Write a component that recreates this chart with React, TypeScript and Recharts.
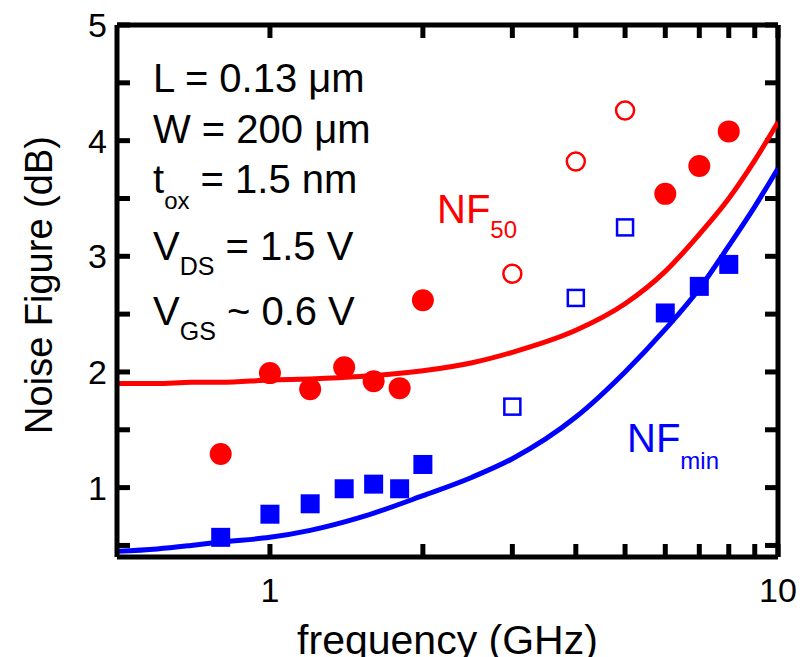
import { ComposedChart, Customized, Line, ReferenceLine, Scatter, XAxis, YAxis } from 'recharts'

// frequency grid (GHz) for the fitted curves
const fitFreq = [0.5, 0.6, 0.7, 0.8, 1, 1.2, 1.5, 2, 2.5, 3, 4, 5, 6, 7, 8, 9, 10]
const nf50Fit = [1.9, 1.9, 1.91, 1.91, 1.93, 1.94, 1.96, 2.01, 2.08, 2.17, 2.36, 2.59, 2.87, 3.19, 3.5, 3.83, 4.16]
const nfMinFit = [0.45, 0.47, 0.5, 0.53, 0.57, 0.63, 0.74, 0.93, 1.09, 1.25, 1.61, 2.0, 2.37, 2.72, 3.09, 3.43, 3.76]

// measured frequencies
const freqLow = [0.8, 1, 1.2, 1.4, 1.6, 1.8, 2]
const freqMid = [3, 4, 5]
const freqHigh = [6, 7, 8]

const nf50Low = [1.29, 1.99, 1.85, 2.04, 1.92, 1.86, 2.62]
const nf50Mid = [2.85, 3.82, 4.26]
const nf50High = [3.54, 3.78, 4.08]

const nfMinLow = [0.57, 0.77, 0.86, 0.99, 1.03, 0.99, 1.2]
const nfMinMid = [1.7, 2.64, 3.25]
const nfMinHigh = [2.51, 2.74, 2.93]

const xTicks = [1, 2, 3, 4, 5, 6, 7, 8, 9, 10]
const xLabels = [1, 10]
const yTicks = [0.5, 1, 1.5, 2, 2.5, 3, 3.5, 4, 4.5, 5]

const X_DOMAIN = [0.5, 10]
const Y_DOMAIN = [0.4, 5]

const zip = (f: number[], v: number[]) => f.map((x, i) => ({ f: x, nf: v[i] }))

const W = 809
const H = 657
const LEFT = 117
const RIGHT = 31
const TOP = 25
const BOTTOM = 100
const PLOT_L = LEFT
const PLOT_R = W - RIGHT
const PLOT_T = TOP
const PLOT_B = H - BOTTOM

const RED = '#ff0000'
const BLUE = '#0000ff'
const FONT = '"Liberation Sans", Arial, Helvetica, sans-serif'
const TICK_PX = 13

// same mapping as the log x axis / linear y axis, used for the frame ticks
const tickX = (v: number) =>
  PLOT_L + ((PLOT_R - PLOT_L) * Math.log(v / X_DOMAIN[0])) / Math.log(X_DOMAIN[1] / X_DOMAIN[0])
const tickY = (v: number) =>
  PLOT_B - ((PLOT_B - PLOT_T) * (v - Y_DOMAIN[0])) / (Y_DOMAIN[1] - Y_DOMAIN[0])

const filledCircle = (p: any) => <circle cx={p.cx} cy={p.cy} r={11} fill={RED} />
const openCircle = (p: any) => <circle cx={p.cx} cy={p.cy} r={9} fill='none' stroke={RED} strokeWidth={2.5} />
const filledSquare = (p: any) => <rect x={p.cx - 9.5} y={p.cy - 9.5} width={19} height={19} fill={BLUE} />
const openSquare = (p: any) => (
  <rect x={p.cx - 8} y={p.cy - 8} width={16} height={16} fill='none' stroke={BLUE} strokeWidth={2.5} />
)

function BottomTick(p: any) {
  const v = p.payload.value
  if (!xLabels.includes(v)) return <g />
  return (
    <text x={p.x} y={PLOT_B + 45} textAnchor='middle' fontSize={34} fontFamily={FONT} fill='#000'>
      {v}
    </text>
  )
}

function LeftTick(p: any) {
  const v = p.payload.value
  if (!Number.isInteger(v)) return <g />
  return (
    <text x={PLOT_L - 10} y={p.y + 12} textAnchor='end' fontSize={34} fontFamily={FONT} fill='#000'>
      {v}
    </text>
  )
}

// inward ticks on all four sides of the frame
function FrameTicks() {
  const s = { stroke: '#000', strokeWidth: 5 }
  return (
    <g>
      {xTicks.map((v) => (
        <g key={`x${v}`}>
          <line x1={tickX(v)} x2={tickX(v)} y1={PLOT_B} y2={PLOT_B - TICK_PX} {...s} />
          <line x1={tickX(v)} x2={tickX(v)} y1={PLOT_T} y2={PLOT_T + TICK_PX} {...s} />
        </g>
      ))}
      {yTicks.map((v) => (
        <g key={`y${v}`}>
          <line x1={PLOT_L} x2={PLOT_L + TICK_PX} y1={tickY(v)} y2={tickY(v)} {...s} />
          <line x1={PLOT_R} x2={PLOT_R - TICK_PX} y1={tickY(v)} y2={tickY(v)} {...s} />
        </g>
      ))}
    </g>
  )
}

function Annotations() {
  const t = { fontFamily: FONT, fill: '#000' }
  return (
    <g>
      <FrameTicks />

      <text x={153} y={92} fontSize={40} {...t}>L = 0.13 μm</text>
      <text x={153} y={143} fontSize={40} {...t}>W = 200 μm</text>
      <text x={153} y={193} fontSize={40} {...t}>
        t<tspan fontSize={24} dy={16}>ox</tspan>
        <tspan fontSize={40} dy={-16}> = 1.5 nm</tspan>
      </text>
      <text x={153} y={260} fontSize={40} {...t}>
        V<tspan fontSize={25} dy={15}>DS</tspan>
        <tspan fontSize={40} dy={-15}> = 1.5 V</tspan>
      </text>
      <text x={153} y={325} fontSize={40} {...t}>
        V<tspan fontSize={25} dy={15}>GS</tspan>
        <tspan fontSize={40} dy={-15}> ~ 0.6 V</tspan>
      </text>

      <text x={437} y={223} fontSize={40} fontFamily={FONT} fill={RED}>
        NF<tspan fontSize={24} dy={15}>50</tspan>
      </text>
      <text x={627} y={452} fontSize={40} fontFamily={FONT} fill={BLUE}>
        NF<tspan fontSize={24} dy={17}>min</tspan>
      </text>

      <text
        x={52}
        y={285}
        transform='rotate(-90, 52, 285)'
        textAnchor='middle'
        fontSize={38}
        {...t}
      >
        Noise Figure (dB)
      </text>
      <text x={(PLOT_L + PLOT_R) / 2} y={654} textAnchor='middle' fontSize={41} {...t}>
        frequency (GHz)
      </text>
    </g>
  )
}

export default function App() {
  return (
    <div style={{ position: 'absolute', left: 0, top: 0, background: '#fff' }}>
      <ComposedChart width={W} height={H} margin={{ top: TOP, right: RIGHT, bottom: 0, left: 0 }}>
        <XAxis
          dataKey='f'
          type='number'
          scale='log'
          domain={X_DOMAIN}
          allowDataOverflow
          ticks={xTicks}
          interval={0}
          height={BOTTOM}
          axisLine={{ stroke: '#000', strokeWidth: 5 }}
          tickLine={false}
          tick={BottomTick}
        />
        <YAxis
          dataKey='nf'
          type='number'
          domain={Y_DOMAIN}
          allowDataOverflow
          ticks={yTicks}
          interval={0}
          width={LEFT}
          axisLine={{ stroke: '#000', strokeWidth: 5 }}
          tickLine={false}
          tick={LeftTick}
        />

        {/* top and right sides of the frame */}
        <ReferenceLine y={Y_DOMAIN[1]} stroke='#000' strokeWidth={5} ifOverflow='visible' />
        <ReferenceLine x={X_DOMAIN[1]} stroke='#000' strokeWidth={5} ifOverflow='visible' />

        <Line
          data={zip(fitFreq, nf50Fit)}
          dataKey='nf'
          type='monotone'
          stroke={RED}
          strokeWidth={5}
          dot={false}
          isAnimationActive={false}
        />
        <Line
          data={zip(fitFreq, nfMinFit)}
          dataKey='nf'
          type='monotone'
          stroke={BLUE}
          strokeWidth={5}
          dot={false}
          isAnimationActive={false}
        />

        <Scatter data={zip(freqLow, nf50Low)} shape={filledCircle} isAnimationActive={false} />
        <Scatter data={zip(freqHigh, nf50High)} shape={filledCircle} isAnimationActive={false} />
        <Scatter data={zip(freqMid, nf50Mid)} shape={openCircle} isAnimationActive={false} />
        <Scatter data={zip(freqLow, nfMinLow)} shape={filledSquare} isAnimationActive={false} />
        <Scatter data={zip(freqHigh, nfMinHigh)} shape={filledSquare} isAnimationActive={false} />
        <Scatter data={zip(freqMid, nfMinMid)} shape={openSquare} isAnimationActive={false} />

        <Customized component={Annotations} />
      </ComposedChart>
    </div>
  )
}
